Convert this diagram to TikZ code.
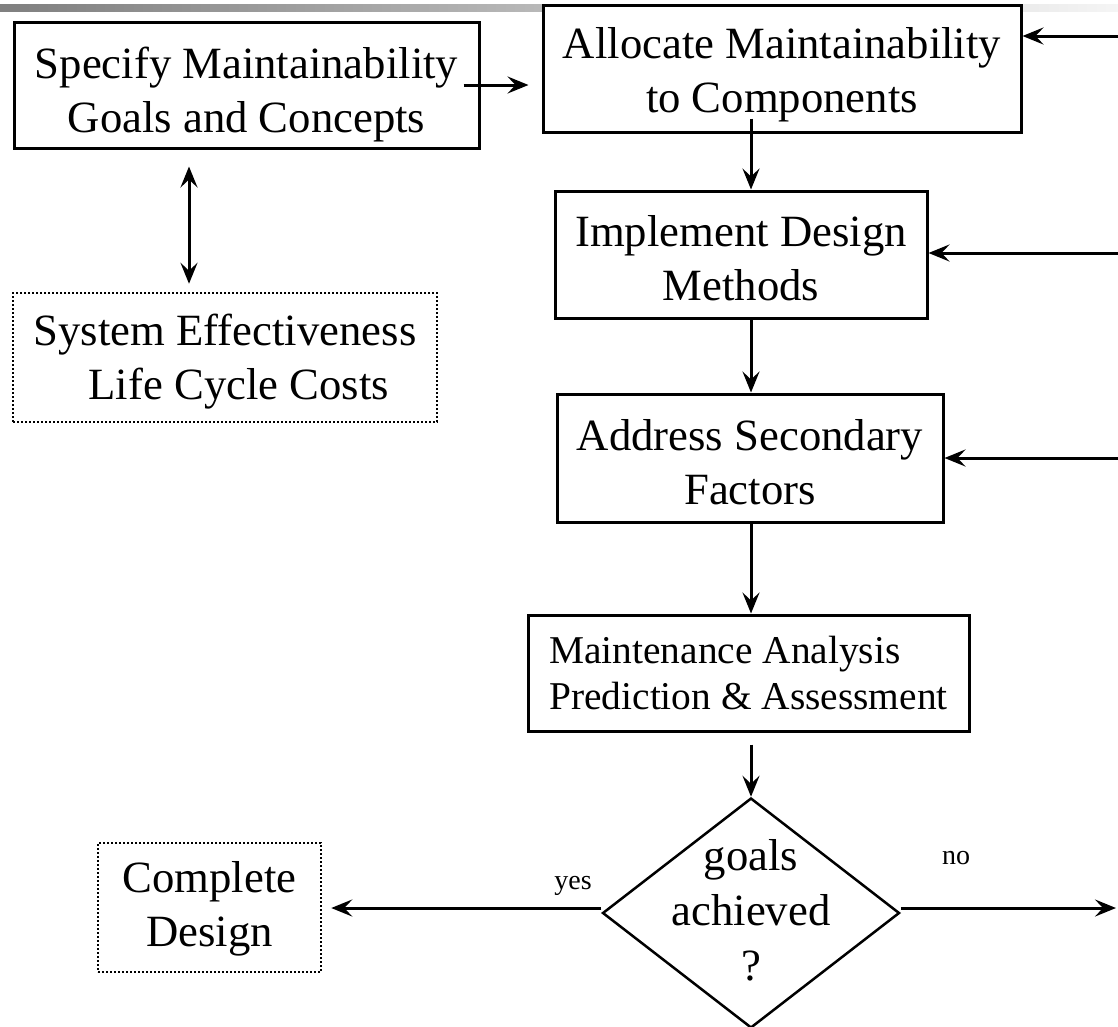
\documentclass[tikz,border=0pt]{standalone}
\usepackage{fontspec}
\setmainfont{Liberation Serif}
\usetikzlibrary{arrows.meta,shapes.geometric,calc}
\tikzset{
  box/.style={draw, line width=3pt, fill=white, inner sep=0pt, align=center,
    font=\fontsize{44.7}{54}\selectfont},
  tpos/.style={text depth=10pt, text height=#1},
  dotbox/.style={box, line width=2.5pt, dash pattern=on 2pt off 2pt},
  tip/.tip={Stealth[length=21pt,width=17pt,inset=8pt]},
  arr/.style={line width=3pt, -tip},
  darr/.style={line width=3pt, tip-tip},
  lbl/.style={font=\fontsize{28}{32}\selectfont, inner sep=0pt}
}
\begin{document}
\begin{tikzpicture}[x=1pt,y=-1pt]
\useasboundingbox (0,0) rectangle (1118,1026);
\fill[white] (0,0) rectangle (1118,1026);
\shade[left color=black!50, right color=black!4] (0,4) rectangle (1118,11);

\node[box, tpos=104pt, minimum width=465pt, minimum height=126pt] (spec) at (246.5,85) {Specify Maintainability\\Goals and Concepts};
\node[box, tpos=98pt, minimum width=478pt, minimum height=127pt] (alloc) at (782,68.5) {Allocate Maintainability\\to Components};
\node[box, tpos=101pt, minimum width=372pt, minimum height=127pt] (impl) at (741,254.5) {Implement Design\\Methods};
\node[box, tpos=102pt, minimum width=386pt, minimum height=128pt] (addr) at (750,458) {Address Secondary\\Factors};
\node[box, minimum width=441pt, minimum height=116pt, align=left, font=\fontsize{39.4}{46}\selectfont] (maint) at (748.5,673) {Maintenance Analysis\\Prediction \& Assessment};
\node[dotbox, tpos=94pt, minimum width=424pt, minimum height=129pt, align=left] (sys) at (225,357.5) {System Effectiveness\\\hspace*{55pt}Life Cycle Costs};
\node[dotbox, tpos=88pt, minimum width=223pt, minimum height=129pt] (comp) at (209.5,907.5) {Complete\\Design};
\node[draw, shape=diamond, line width=2.5pt, minimum width=297pt, minimum height=230pt, inner sep=0pt] (d) at (751,913) {};
\node[align=center, inner sep=0pt, font=\fontsize{44.7}{55}\selectfont] (dt) at (751,910) {goals\\achieved\\?};
\node[lbl] (yes) at (573,886) {yes};
\node[lbl] (no) at (956,858) {no};

\coordinate (r1) at (1118,36);
\coordinate (r2) at (1118,253);
\coordinate (r3) at (1118,458);
\coordinate (rn) at (1116,908);
\coordinate (dx) at (189,0);

\draw[arr, shorten >=13pt] ([xshift=-17pt]spec.east) -- (spec.east -| alloc.west);
\draw[arr] (r1) -- (r1 -| alloc.east);
\draw[arr] (r2) -- (r2 -| impl.east);
\draw[arr] (r3) -- (r3 -| addr.east);
\draw[arr] ([yshift=15pt]alloc.south -| d) -- (impl.north -| d);
\draw[arr] (impl.south -| d) -- (addr.north -| d);
\draw[arr] (addr.south -| d) -- (maint.north -| d);
\draw[arr] ([yshift=-12pt]maint.south -| d) -- (d.north);
\draw[darr, shorten <=17pt, shorten >=8pt] (spec.south -| dx) -- (sys.north -| dx);
\draw[arr, shorten >=9pt] ([yshift=5pt]d.west) -- ([yshift=5pt]d.west -| comp.east);
\draw[arr] ([yshift=5pt]d.east) -- (rn);
\end{tikzpicture}
\end{document}
